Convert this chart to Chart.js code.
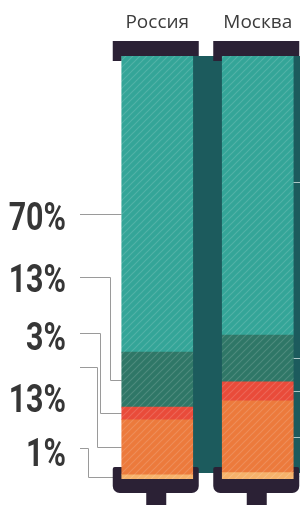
<!DOCTYPE html>
<html><head><meta charset="utf-8">
<script src="https://cdn.jsdelivr.net/npm/chart.js@4.4.1/dist/chart.umd.min.js"></script>
<style>
html,body{margin:0;padding:0;background:#fff;overflow:hidden;width:300px;height:505px}
#wrap{position:relative;width:320px;height:505px}
</style></head>
<body><div id="wrap"><canvas id="c"></canvas></div>
<script>
// ---- data ----
const categories = ['Россия', 'Москва'];
const lightOrange = [1, 1.5];
const orange = [13, 17];
const red = [3, 4.5];
const darkGreen = [13, 11];
const teal = [70, 66];
const valueMax = 100;
// Russia labels, top to bottom (teal, dark green, red, orange, light orange)
const russiaLabels = ['70%', '13%', '3%', '13%', '1%'];

// ---- styles ----
function hatch(color) {
  const c = document.createElement('canvas');
  c.width = 7; c.height = 7;
  const g = c.getContext('2d');
  g.fillStyle = color; g.fillRect(0, 0, 7, 7);
  g.strokeStyle = 'rgba(255,255,255,0.15)'; g.lineWidth = 1.2;
  g.beginPath();
  g.moveTo(-1, 8); g.lineTo(8, -1);
  g.moveTo(-1, 1); g.lineTo(1, -1);
  g.moveTo(6, 8); g.lineTo(8, 6);
  g.stroke();
  return g.createPattern(c, 'repeat');
}
const COL = {
  light: '#f6b26b', orange: '#ec7a3c', red: '#e94b3a', dark: '#2f7767', teal: '#34a598',
  cap: '#2b2135', strip: '#1c5b5d', leader: '#9a9a9a', label: '#363636'
};
const BAR_W = 71;

const decor = {
  id: 'decor',
  beforeDatasetsDraw(chart) {
    const ctx = chart.ctx, xS = chart.scales.x, yS = chart.scales.y;
    const top = yS.getPixelForValue(valueMax), bottom = yS.getPixelForValue(0);
    ctx.save();
    // shadow strips
    categories.forEach((_, i) => {
      const cx = xS.getPixelForValue(i), right = cx + BAR_W / 2;
      ctx.fillStyle = COL.strip;
      ctx.fillRect(right - 1, top, 32, bottom - top - 6);
    });
    // left leader lines (Russia)
    const cumR = [];
    let acc = 0;
    [lightOrange, orange, red, darkGreen, teal].forEach(a => { cumR.push([acc, acc + a[0]]); acc += a[0]; });
    const segTopDown = cumR.slice().reverse();
    const lineY = [214, 277, 333, 367, 448];
    const elbowX = [null, 110, 100, 97, 88];
    const barLeft = xS.getPixelForValue(0) - BAR_W / 2;
    ctx.strokeStyle = COL.leader; ctx.lineWidth = 1;
    segTopDown.forEach((s, k) => {
      const midY = Math.round(yS.getPixelForValue((s[0] + s[1]) / 2)) + 0.5;
      const y0 = lineY[k] + 0.5;
      ctx.beginPath();
      ctx.moveTo(80, y0);
      if (elbowX[k] === null) { ctx.lineTo(barLeft, y0); }
      else {
        const ex = elbowX[k] + 0.5;
        ctx.lineTo(ex, y0); ctx.lineTo(ex, midY); ctx.lineTo(barLeft, midY);
      }
      ctx.stroke();
    });
    // right leader stubs (Moscow)
    const cumM = [];
    acc = 0;
    [lightOrange, orange, red, darkGreen, teal].forEach(a => { cumM.push([acc, acc + a[1]]); acc += a[1]; });
    const mRight = xS.getPixelForValue(1) + BAR_W / 2;
    ctx.strokeStyle = 'rgba(220,235,235,0.75)';
    cumM.forEach((s, k) => {
      const y = (k === 4 ? 182 : Math.round(yS.getPixelForValue((s[0] + s[1]) / 2))) + 0.5;
      ctx.beginPath(); ctx.moveTo(mRight, y); ctx.lineTo(mRight + 12, y); ctx.stroke();
    });
    // caps & stems
    categories.forEach((_, i) => {
      const cx = xS.getPixelForValue(i), left = cx - BAR_W / 2;
      ctx.fillStyle = COL.cap;
      ctx.fillRect(left - 9, top - 15, BAR_W + 15, 15);
      ctx.fillRect(left - 9, top, 9, 5);
      ctx.beginPath();
      ctx.roundRect(left - 9, bottom - 12, BAR_W + 15, 26, [2, 2, 7, 7]);
      ctx.fill();
      ctx.fillRect(cx - 11, bottom + 10, 20, 30);
    });
    ctx.restore();
  },
  afterDraw(chart) {
    const ctx = chart.ctx;
    const baseY = [230, 292, 350, 412, 466];
    ctx.save();
    ctx.fillStyle = COL.label;
    ctx.font = 'bold 38px Roboto';
    ctx.textAlign = 'right';
    ctx.textBaseline = 'alphabetic';
    russiaLabels.forEach((t, k) => {
      ctx.save();
      ctx.translate(66, baseY[k]);
      ctx.scale(0.8, 1);
      ctx.fillText(t, 0, 0);
      ctx.restore();
    });
    ctx.restore();
  }
};

const mk = (label, data, color) => ({
  label, data, backgroundColor: hatch(color), borderWidth: 0,
  barThickness: BAR_W, stack: 's'
});

new Chart(document.getElementById('c'), {
  type: 'bar',
  data: {
    labels: categories,
    datasets: [
      mk('1', lightOrange, COL.light),
      mk('2', orange, COL.orange),
      mk('3', red, COL.red),
      mk('4', darkGreen, COL.dark),
      mk('5', teal, COL.teal)
    ]
  },
  options: {
    responsive: true, maintainAspectRatio: false, animation: false, devicePixelRatio: 1,
    layout: { padding: { left: 107, right: 12, top: 0, bottom: 26 } },
    plugins: { legend: { display: false }, tooltip: { enabled: false } },
    scales: {
      x: {
        position: 'top', stacked: true,
        grid: { display: false, drawTicks: false }, border: { display: false },
        ticks: { color: '#3c3c3c', font: { family: 'Open Sans', size: 19, weight: 'normal' }, padding: 22 },
        afterFit: s => { s.height = 56; }
      },
      y: { display: false, stacked: true, min: 0, max: valueMax }
    }
  },
  plugins: [decor]
});
</script>
</body></html>
